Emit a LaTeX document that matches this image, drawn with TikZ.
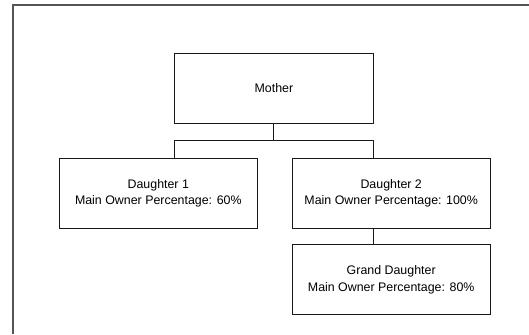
\documentclass[tikz,border=0pt]{standalone}
\usepackage{fontspec}
\setmainfont{Liberation Sans}
\begin{document}
\begin{tikzpicture}[x=1pt,y=-1pt,
  box/.style={draw=black!90, line width=1pt, rectangle, minimum width=198.3pt, minimum height=70pt,
    align=center, inner sep=0pt, font=\fontsize{12.4}{16.5}\selectfont},
  conn/.style={draw=black!90, line width=1pt},
  frame/.style={draw=black!67, line width=1.5pt}]
\useasboundingbox (0,0) rectangle (529,334);
\draw[frame] (13,334) -- (13,5) -- (529,5);
\node[box] (m) at (273.9,88.3) {Mother};
\node[box] (d1) at (158.3,193.4) {Daughter 1\\Main Owner Percentage: 60\%};
\node[box] (d2) at (391.2,193.2) {Daughter 2\\Main Owner Percentage: 100\%};
\node[box] (gd) at (391.2,279.7) {Grand Daughter\\Main Owner Percentage: 80\%};
\coordinate (bl) at (174.7,140);
\coordinate (br) at (373,140);
\coordinate (bm) at (m.south |- bl);
\draw[conn] (m.south) -- (bm);
\draw[conn] (bl) -- (br);
\draw[conn] (bl) -- (bl |- d1.north);
\draw[conn] (br) -- (br |- d2.north);
\draw[conn] (br |- d2.south) -- (br |- gd.north);
\end{tikzpicture}
\end{document}
